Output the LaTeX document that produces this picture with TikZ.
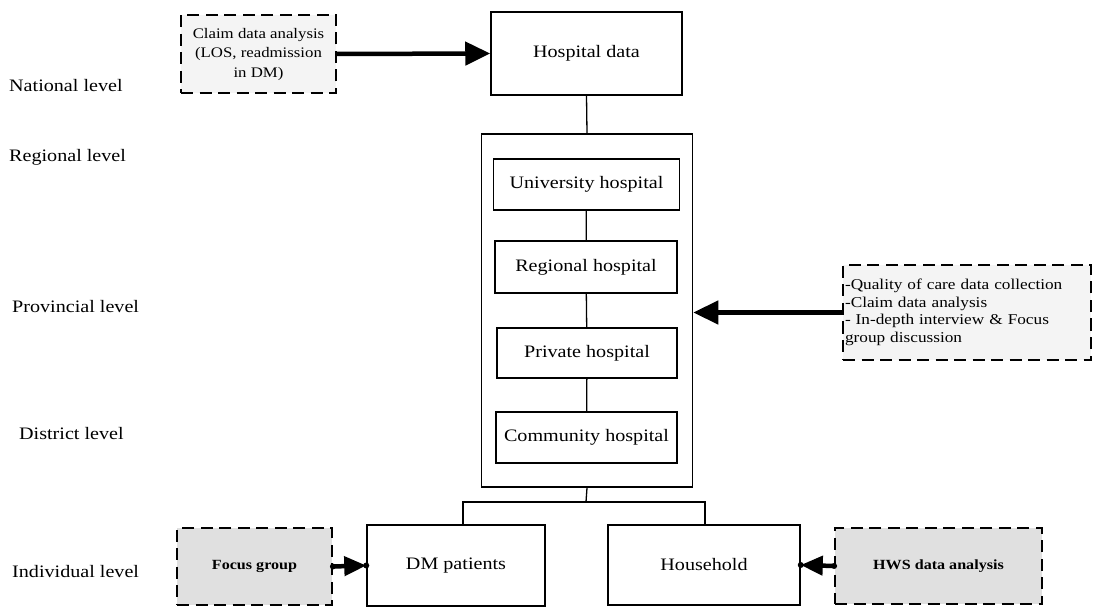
\documentclass[tikz,border=0pt]{standalone}
\usepackage{fontspec}
\setmainfont{Liberation Serif}[FakeStretch=1.15]
\usetikzlibrary{arrows.meta}
\begin{document}
\begin{tikzpicture}[x=1pt,y=-1pt,
  lvl/.style={anchor=west,font=\fontsize{17.5}{20}\selectfont,inner sep=0pt},
  box/.style={draw,line width=1.5pt,font=\fontsize{17.5}{20}\selectfont,
    inner sep=0pt,minimum width=#1},
  method/.style={draw,line width=1.8pt,dash pattern=on 12pt off 6.5pt,
    fill=gray!9,inner sep=2pt},
  strongmethod/.style={method,fill=gray!24,font=\bfseries\fontsize{14}{17}\selectfont},
  link/.style={line width=1.3pt},
  bigarrow/.style={line width=4.5pt,-{Triangle[length=25pt,width=23pt]}},
  smallarrow/.style={line width=4.5pt,-{Triangle[length=22pt,width=19pt]}},
  dot/.style={fill,circle,inner sep=0pt,minimum size=6pt}]
\useasboundingbox (0,0) rectangle (1094,609);

% level labels
\node[lvl] (lnat)  at (9,86)   {National level};
\node[lvl] (lreg)  at (9,157)  {Regional level};
\node[lvl] (lprov) at (12,307) {Provincial level};
\node[lvl] (ldist) at (19,434) {District level};
\node[lvl] (lind)  at (12,572) {Individual level};

% hospital tiers
\node[box=191pt,minimum height=83pt] (hosp) at (586.5,53.5) {Hospital data};
\node[draw,line width=1.5pt,minimum width=211pt,minimum height=353pt,inner sep=0pt]
  (cont) at (587,310.5) {};
\node[box=186pt,minimum height=51pt] (univ) at (586.5,184.5) {University hospital};
\node[box=182pt,minimum height=52pt] (reg)  at (586,267)    {Regional hospital};
\node[box=180pt,minimum height=50pt] (priv) at (587,353)    {Private hospital};
\node[box=181pt,minimum height=51pt] (comm) at (586.5,437.5){Community hospital};

% individual level
\node[box=178pt,minimum height=81pt] (dm) at (456,565.5) {DM patients};
\node[box=192pt,minimum height=80pt] (hh) at (704,565)   {Household};

% data sources
\node[method,minimum width=155pt,minimum height=78pt,align=center,
  font=\fontsize{14.6}{19.5}\selectfont] (claim) at (258.5,54)
  {Claim data analysis\\(LOS, readmission\\in DM)};
\node[method,minimum width=248pt,minimum height=95pt,text width=244pt,align=left,
  font=\fontsize{15}{17.5}\selectfont] (qual) at (967,312.5)
  {-Quality of care data collection\\-Claim data analysis\\- In-depth interview \& Focus\\group discussion};
\node[strongmethod,minimum width=155pt,minimum height=77pt] (fg)  at (254.5,566.5) {Focus group};
\node[strongmethod,minimum width=207pt,minimum height=76pt] (hws) at (938.5,566) {HWS data analysis};

% connectors
\draw[link] (hosp.south) -- (cont.north);
\draw[link] (univ) -- (reg);
\draw[link] (reg) -- (priv);
\draw[link] (priv) -- (comm);
\coordinate (split) at (586,502);
\draw[link] (cont.south) -- (split);
\draw[link] ([xshift=7pt]dm.north) |- (split) -| ([xshift=1pt]hh.north);

% arrows from data sources
\draw[bigarrow] (claim.east) -- (hosp.west);
\draw[bigarrow] (qual.west) -- (qual.west -| cont.east);
\draw[smallarrow] (fg.east) -- (dm.west);
\draw[smallarrow] (hws.west) -- (hh.east);
\node[dot] (d1) at (fg.east) {};
\node[dot] (d2) at (dm.west) {};
\node[dot] (d3) at (hws.west) {};
\node[dot] (d4) at (hh.east) {};
\end{tikzpicture}
\end{document}
